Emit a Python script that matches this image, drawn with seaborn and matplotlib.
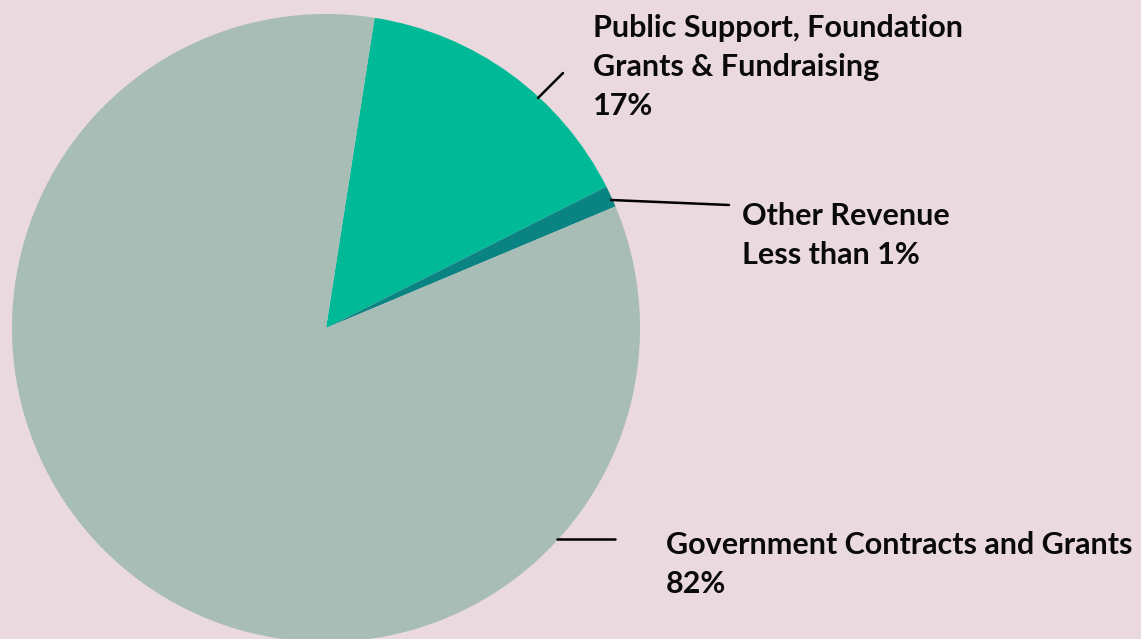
import numpy as np
import seaborn as sns
import matplotlib
matplotlib.use('Agg')
import matplotlib.pyplot as plt

categories = ['Public Support, Foundation\nGrants & Fundraising',
              'Other Revenue',
              'Government Contracts and Grants']
shares = [15.1, 1.1, 83.8]
share_labels = ['17%', 'Less than 1%', '82%']
colors = ['#00B996', '#0A8383', '#A7BDB6']
bg = '#EAD9DF'

sns.set_theme(style='white')
plt.rcParams['font.family'] = ['Lato', 'DejaVu Sans']

W, H = 1141, 639
fig = plt.figure(figsize=(W / 100, H / 100), dpi=100, facecolor=bg)
ax = fig.add_axes([0, 0, 1, 1])
ax.set_facecolor(bg)

ax.pie(shares, colors=colors, startangle=81.1, counterclock=False,
       center=(326, H - 328), radius=314,
       wedgeprops={'linewidth': 0})
ax.set_xlim(0, W)
ax.set_ylim(0, H)
ax.set_aspect('auto')
ax.axis('off')

text_kw = dict(fontsize=22, fontweight='bold', color='#0A0A0A',
               va='top', ha='left', linespacing=1.48)

# leader lines (pixel positions, y flipped)
ax.plot([538, 563], [H - 98, H - 73], color='black', lw=1.8)
ax.plot([611, 729], [H - 200, H - 205], color='black', lw=1.8)
ax.plot([557, 615], [H - 539, H - 539], color='black', lw=1.8)

ax.text(593, H - 14, categories[0] + '\n' + share_labels[0], **text_kw)
ax.text(742, H - 202, categories[1] + '\n' + share_labels[1], **text_kw)
ax.text(666, H - 531, categories[2] + '\n' + share_labels[2], **text_kw)

plt.savefig('out.png', dpi=100, facecolor=bg)
plt.close()
